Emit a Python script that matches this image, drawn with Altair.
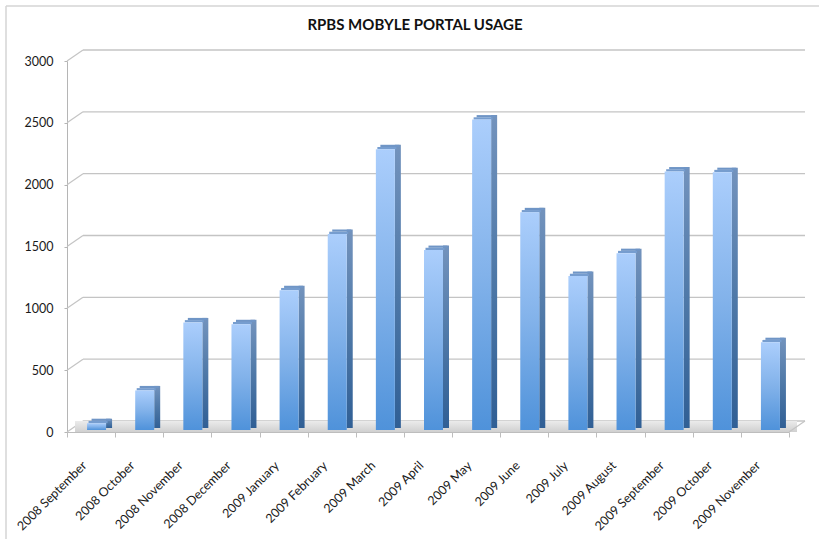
import altair as alt
import pandas as pd

# ---- data ----
months = ["2008 September", "2008 October", "2008 November", "2008 December",
          "2009 January", "2009 February", "2009 March", "2009 April", "2009 May",
          "2009 June", "2009 July", "2009 August", "2009 September",
          "2009 October", "2009 November"]
usage = [55, 320, 870, 855, 1130, 1585, 2270, 1455, 2510, 1760, 1245, 1430,
         2090, 2085, 710]
y_ticks = [0, 500, 1000, 1500, 2000, 2500, 3000]
title_text = "RPBS MOBYLE PORTAL USAGE"

df = pd.DataFrame({"month": months, "usage": usage})
tick_df = pd.DataFrame({"v": y_ticks})
one = pd.DataFrame({"v": [0]})

W, H = 722, 371
DX, DY = 16, 11          # 3D depth offsets of the back wall
FONT = "Lato"
GRID = "#c4c4c4"

y_scale = alt.Scale(domain=[0, 3000], nice=False, zero=True)
y_axis = alt.Axis(values=y_ticks, format="d", grid=False, domainColor="#b5b5b5",
                  tickColor="#b5b5b5", tickSize=3, labelPadding=11, labelFont=FONT,
                  labelFontSize=12.5, labelColor="#1a1a1a", domainWidth=1)
x_scale = alt.Scale(paddingInner=0, paddingOuter=0)
x_axis = alt.Axis(labelAngle=-45, labelAlign="right", labelBaseline="middle",
                  labelFont=FONT, labelFontSize=12.5, labelColor="#1a1a1a",
                  tickBand="extent", tickSize=5, tickColor="#bdbdbd",
                  domainColor="#bdbdbd", labelPadding=26, labelOffset=-7, grid=False)

X = alt.X("month:N", sort=months, scale=x_scale, axis=x_axis, title=None)
Yu = alt.Y("usage:Q", scale=y_scale, axis=y_axis, title=None)
Yv = alt.Y("v:Q", scale=y_scale, axis=y_axis, title=None)

# back-wall gridlines
grid = alt.Chart(tick_df).mark_rule(color=GRID, strokeWidth=1.3, yOffset=-DY).encode(
    x=alt.value(DX), x2=alt.value(W + DX), y=Yv)
# side-wall diagonals from axis ticks to the back wall
diag = alt.Chart(tick_df).mark_rule(color=GRID, strokeWidth=1.2, y2Offset=-DY).encode(
    x=alt.value(0), x2=alt.value(DX), y=Yv, y2=alt.Y2("v"))

# floor
floor_fill = alt.Gradient(gradient="linear", x1=0, y1=0, x2=0, y2=1,
                          stops=[alt.GradientStop(color="#ebebeb", offset=0),
                                 alt.GradientStop(color="#d0d0d0", offset=1)])
floor = alt.Chart(one).mark_rect(color=floor_fill, y2Offset=-DY).encode(
    x=alt.value(DX / 2), x2=alt.value(W + DX / 2), y=Yv, y2=alt.Y2("v"))
floor_right = alt.Chart(one).mark_rule(color=GRID, strokeWidth=1.2, y2Offset=-DY).encode(
    x=alt.value(W), x2=alt.value(W + DX), y=Yv, y2=alt.Y2("v"))

# bars (front face, side face, top face)
front_fill = alt.Gradient(gradient="linear", x1=0, y1=0, x2=0, y2=1,
                          stops=[alt.GradientStop(color="#abcefc", offset=0),
                                 alt.GradientStop(color="#82b2ea", offset=0.5),
                                 alt.GradientStop(color="#4f92da", offset=1)])
side_fill = alt.Gradient(gradient="linear", x1=0, y1=0, x2=0, y2=1,
                         stops=[alt.GradientStop(color="#7393bd", offset=0),
                                alt.GradientStop(color="#4f79a8", offset=0.5),
                                alt.GradientStop(color="#305f95", offset=1)])
side = alt.Chart(df).mark_bar(color=side_fill, size=6, xOffset=18, yOffset=-6.5,
                              y2Offset=-4).encode(x=X, y=Yu, y2=alt.datum(0))
top_low = alt.Chart(df).mark_bar(color="#769dcf", size=19, xOffset=7, yOffset=-4.3,
                                 y2Offset=-2).encode(x=X, y=Yu, y2=alt.Y2("usage"))
top_high = alt.Chart(df).mark_bar(color="#6f95c6", size=19, xOffset=10, yOffset=-6.5,
                                  y2Offset=-4.3).encode(x=X, y=Yu, y2=alt.Y2("usage"))
front = alt.Chart(df).mark_bar(color=front_fill, size=19, xOffset=5.5, yOffset=-2,
                               y2Offset=-2).encode(x=X, y=Yu, y2=alt.datum(0))

# title
title = alt.Chart(one).mark_text(text=title_text, font=FONT, fontSize=15, fontWeight="bold",
                                 color="#111111", align="center", baseline="alphabetic").encode(
    x=alt.value(348), y=alt.value(-31))

# outer chart border
border_top = alt.Chart(one).mark_rule(color="#d4d4d4", strokeWidth=1.5).encode(
    x=alt.value(-61), x2=alt.value(W + 40), y=alt.value(-55))
border_left = alt.Chart(one).mark_rule(color="#d4d4d4", strokeWidth=1.5).encode(
    x=alt.value(-61), y=alt.value(-55), y2=alt.value(H + 120))

chart = alt.layer(
    border_top, border_left, grid, diag, floor, floor_right, side, top_low, top_high,
    front, title
).properties(
    width=W, height=H,
    background="white",
    autosize=alt.AutoSizeParams(type="none"),
    padding={"left": 67, "top": 61, "right": 30, "bottom": 107},
).configure_view(stroke=None)

chart.save("out.html", embed_options={"renderer": "svg", "actions": False})
